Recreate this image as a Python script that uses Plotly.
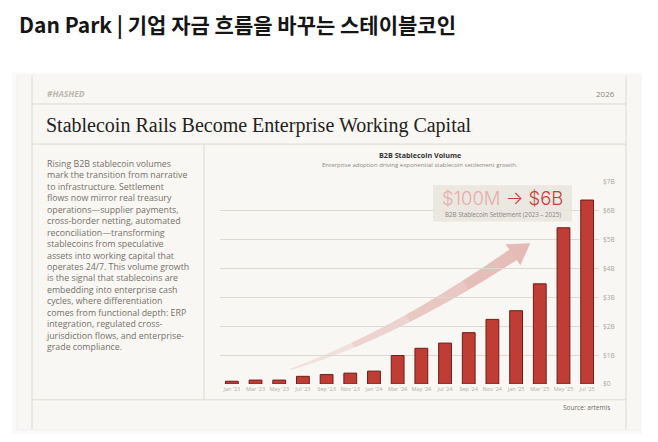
import numpy as np
import plotly.graph_objects as go

# ---------------- data ----------------
months = ["Jan '23", "Mar '23", "May '23", "Jul '23", "Sep '23", "Nov '23",
          "Jan '24", "Mar '24", "May '24", "Jul '24", "Sep '24", "Nov '24",
          "Jan '25", "Mar '25", "May '25", "Jul '25"]
volume_b = [0.10, 0.14, 0.14, 0.27, 0.33, 0.38, 0.45, 0.99, 1.24, 1.42,
            1.78, 2.24, 2.54, 3.47, 5.41, 6.37]
y_ticks = [0, 1, 2, 3, 4, 5, 6, 7]
y_tick_labels = ["$0", "$1B", "$2B", "$3B", "$4B", "$5B", "$6B", "$7B"]

headline = "Dan Park | 기업 자금 흐름을 바꾸는 스테이블코인"
card_title = "Stablecoin Rails Become Enterprise Working Capital"
body_lines = [
    "Rising B2B stablecoin volumes",
    "mark the transition from narrative",
    "to infrastructure. Settlement",
    "flows now mirror real treasury",
    "operations—supplier payments,",
    "cross-border netting, automated",
    "reconciliation—transforming",
    "stablecoins from speculative",
    "assets into working capital that",
    "operates 24/7. This volume growth",
    "is the signal that stablecoins are",
    "embedding into enterprise cash",
    "cycles, where differentiation",
    "comes from functional depth: ERP",
    "integration, regulated cross-",
    "jurisdiction flows, and enterprise-",
    "grade compliance.",
]

W, H = 658, 442
def fx(px): return px / W
def fy(py): return 1 - py / H

SANS = "Open Sans"
LINE = "#dedad4"

fig = go.Figure()
fig.add_trace(go.Bar(
    x=months, y=volume_b,
    marker=dict(color="#bf3d35", line=dict(color="#6e1c17", width=1)),
    hoverinfo="skip",
))

shapes = []
# card shadow + card
shapes.append(dict(type="rect", xref="paper", yref="paper", layer="below",
                   x0=fx(12), x1=fx(642), y0=fy(438), y1=fy(69),
                   fillcolor="rgba(0,0,0,0.02)", line=dict(width=0)))
shapes.append(dict(type="rect", xref="paper", yref="paper", layer="below",
                   x0=fx(16), x1=fx(641), y0=fy(435), y1=fy(71),
                   fillcolor="rgba(0,0,0,0.025)", line=dict(width=0)))
shapes.append(dict(type="rect", xref="paper", yref="paper", layer="below",
                   x0=fx(19), x1=fx(640), y0=fy(433), y1=fy(73),
                   fillcolor="#f9f7f3", line=dict(width=0)))

def hline(py, x0, x1):
    shapes.append(dict(type="line", xref="paper", yref="paper", layer="below",
                       x0=fx(x0), x1=fx(x1), y0=fy(py), y1=fy(py),
                       line=dict(color=LINE, width=1)))
def vline(px, y0, y1):
    shapes.append(dict(type="line", xref="paper", yref="paper", layer="below",
                       x0=fx(px), x1=fx(px), y0=fy(y0), y1=fy(y1),
                       line=dict(color=LINE, width=1)))

vline(32, 73, 433)
vline(626, 73, 433)
hline(101, 32, 626)
hline(142, 32, 626)
hline(403, 32, 626)
vline(204, 142, 403)

# decorative trend arrow (pixel geometry -> paper)
P0 = np.array([290.0, 372.0]); P1 = np.array([392.0, 338.0]); P2 = np.array([513.0, 255.0])
def bez(t):
    return ((1 - t) ** 2)[:, None] * P0 + (2 * (1 - t) * t)[:, None] * P1 + (t ** 2)[:, None] * P2
def bez_d(t):
    return (2 * (1 - t))[:, None] * (P1 - P0) + (2 * t)[:, None] * (P2 - P1)

segs = [(0.0, 0.3, 0.16), (0.3, 0.55, 0.25), (0.55, 0.8, 0.33), (0.8, 1.0, 0.4)]
for (t0, t1, op) in segs:
    t = np.linspace(t0, t1, 25)
    c = bez(t); d = bez_d(t)
    n = np.stack([-d[:, 1], d[:, 0]], axis=1)
    n = n / np.linalg.norm(n, axis=1)[:, None]
    w = 0.5 + 6.0 * t ** 0.8
    up = c + n * w[:, None]; lo = c - n * w[:, None]
    poly = np.vstack([up, lo[::-1]])
    path = "M " + " L ".join(f"{fx(p[0]):.5f},{fy(p[1]):.5f}" for p in poly) + " Z"
    shapes.append(dict(type="path", xref="paper", yref="paper", layer="below",
                       path=path, fillcolor=f"rgba(200,105,100,{op})", line=dict(width=0)))
# arrow head
d_end = P2 - P1; d_end = d_end / np.linalg.norm(d_end)
nrm = np.array([-d_end[1], d_end[0]])
tip = P2 + d_end * 21
b1 = P2 + nrm * 13; b2 = P2 - nrm * 13
path = "M " + " L ".join(f"{fx(p[0]):.5f},{fy(p[1]):.5f}" for p in [tip, b1, b2]) + " Z"
shapes.append(dict(type="path", xref="paper", yref="paper", layer="below",
                   path=path, fillcolor="rgba(200,105,100,0.42)", line=dict(width=0)))

# callout box
shapes.append(dict(type="rect", xref="paper", yref="paper",
                   x0=fx(433), x1=fx(572), y0=fy(221), y1=fy(184),
                   fillcolor="rgba(233,229,223,0.92)", line=dict(width=0)))

annotations = [
    dict(x=fx(17), y=fy(19), text=f"<b>{headline}</b>", xanchor="left", yanchor="middle",
         font=dict(family="Noto Sans CJK KR", size=21, color="#151515")),
    dict(x=fx(45), y=fy(90), text="<b><i>#HASHED</i></b>", xanchor="left", yanchor="middle",
         font=dict(family=SANS, size=8.5, color="#bbb6b0")),
    dict(x=fx(617), y=fy(90), text="2026", xanchor="right", yanchor="middle",
         font=dict(family=SANS, size=8, color="#8a857f")),
    dict(x=fx(44), y=fy(123), text=card_title, xanchor="left", yanchor="middle",
         font=dict(family="Liberation Serif", size=20, color="#222222")),
    dict(x=fx(44), y=fy(154), text="<br>".join(body_lines), xanchor="left", yanchor="top",
         align="left", font=dict(family=SANS, size=8.8, color="#75706a")),
    dict(x=fx(420), y=fy(153), text="<b>B2B Stablecoin Volume</b>", xanchor="center", yanchor="middle",
         font=dict(family=SANS, size=7.2, color="#333333")),
    dict(x=fx(420), y=fy(163), text="Enterprise adoption driving exponential stablecoin settlement growth.",
         xanchor="center", yanchor="middle", font=dict(family=SANS, size=6, color="#8c8781")),
    dict(x=fx(503), y=fy(197), text="<span style='color:#e6aea9'>$100M</span> → $6B",
         xanchor="center", yanchor="middle",
         font=dict(family="Inter", size=18.5, color="#c4413a", weight=300)),
    dict(x=fx(503), y=fy(214), text="B2B Stablecoin Settlement (2023 – 2025)",
         xanchor="center", yanchor="middle", font=dict(family=SANS, size=6.2, color="#8a847e")),
    dict(x=fx(612), y=fy(411), text="Source: artemis", xanchor="right", yanchor="middle",
         font=dict(family=SANS, size=6.5, color="#6f6a65")),
]
for a in annotations:
    a.update(xref="paper", yref="paper", showarrow=False)

fig.update_layout(
    width=W, height=H, margin=dict(l=0, r=0, t=0, b=0),
    paper_bgcolor="white", plot_bgcolor="rgba(0,0,0,0)",
    showlegend=False, bargap=0.46,
    shapes=shapes, annotations=annotations,
    xaxis=dict(domain=[fx(220), fx(599)], showgrid=False, zeroline=False, showline=False,
               ticks="", tickfont=dict(family=SANS, size=5.5, color="#b3ada7"),
               tickangle=0, fixedrange=True),
    yaxis=dict(domain=[fy(387), fy(180.5)], range=[0, 7], side="right",
               tickvals=y_ticks, ticktext=y_tick_labels, showgrid=True,
               gridcolor="#dcd8d2", gridwidth=1, zeroline=False, showline=False,
               ticks="", ticklabelstandoff=3,
               tickfont=dict(family=SANS, size=6.5, color="#aaa49e"),
               fixedrange=True),
)

fig.write_html("out.html")
